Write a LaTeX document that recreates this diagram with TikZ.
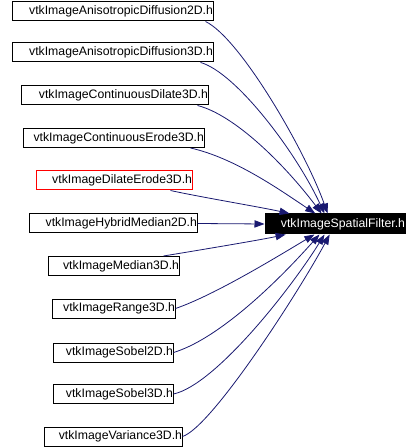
\documentclass[tikz,border=0pt]{standalone}
\usepackage{fontspec}
\setmainfont{Liberation Sans}
\usepackage{tikz}
\usetikzlibrary{arrows.meta, calc}

\definecolor{edgeblue}{HTML}{191970}
\tikzset{
	file/.style={draw=black, line width=0.75pt, minimum height=14.25pt, inner xsep=0pt, inner ysep=0pt, align=right, font=\fontsize{9.2}{10}\selectfont},
	dep/.style={draw=edgeblue, line width=0.6pt, -{Triangle[length=7.5pt, width=5.5pt]}, edgeblue}
}

\begin{document}
\begin{tikzpicture}[x=0.75pt, y=-0.75pt]
	\useasboundingbox (0, 0) rectangle (418, 448);
	\node[file, text width=150.75pt] (diff2d) at (112.5, 11.5) {vtkImageAnisotropicDiffusion2D.h};
	\node[file, text width=150.75pt] (diff3d) at (112.5, 52.5) {vtkImageAnisotropicDiffusion3D.h};
	\node[file, text width=140.25pt] (contdil) at (114.5, 95.5) {vtkImageContinuousDilate3D.h};
	\node[file, text width=135.75pt] (contero) at (113.5, 138) {vtkImageContinuousErode3D.h};
	\node[file, draw=red, text width=117pt] (dilero) at (114, 180.5) {vtkImageDilateErode3D.h};
	\node[file, text width=126pt] (hybmed) at (113, 223.5) {vtkImageHybridMedian2D.h};
	\node[file, text width=98.25pt] (med3d) at (113.5, 266) {vtkImageMedian3D.h};
	\node[file, text width=92.25pt] (range3d) at (113.5, 308.5) {vtkImageRange3D.h};
	\node[file, text width=90pt] (sobel2d) at (113, 352.5) {vtkImageSobel2D.h};
	\node[file, text width=90pt] (sobel3d) at (113, 394) {vtkImageSobel3D.h};
	\node[file, text width=103.5pt] (var3d) at (113, 436.5) {vtkImageVariance3D.h};
	\node[file, fill=black, text=white, text width=105pt, minimum height=15pt] (spatial) at (335, 224) {vtkImageSpatialFilter.h};

	\draw[dep] ($(diff2d.south east)+(-8,0)$) .. controls (240, 38) and (305, 150) .. (spatial.125);
	\draw[dep] ($(diff3d.south east)+(-13,0)$) .. controls (235, 72) and (295, 150) .. (spatial.135);
	\draw[dep] ($(contdil.south east)+(-11,0)$) .. controls (235, 115) and (285, 165) .. (spatial.142);
	\draw[dep] ($(contero.south east)+(-14,0)$) .. controls (235, 158) and (280, 190) .. (spatial.152);
	\draw[dep] ($(dilero.south east)+(-22,0)$) .. controls (200, 197) and (260, 207) .. (spatial.167);
	\draw[dep] (hybmed.east) -- (spatial.west);
	\draw[dep] ($(med3d.north east)+(-16,0)$) .. controls (200, 250) and (260, 240) .. (spatial.192);
	\draw[dep] (range3d.east) .. controls (215, 295) and (280, 255) .. (spatial.207);
	\draw[dep] (sobel2d.east) .. controls (215, 340) and (270, 290) .. (spatial.214);
	\draw[dep] (sobel3d.east) .. controls (215, 385) and (290, 290) .. (spatial.225);
	\draw[dep] (var3d.east) .. controls (212, 427) and (300, 290) .. (spatial.243);
\end{tikzpicture}
\end{document}
